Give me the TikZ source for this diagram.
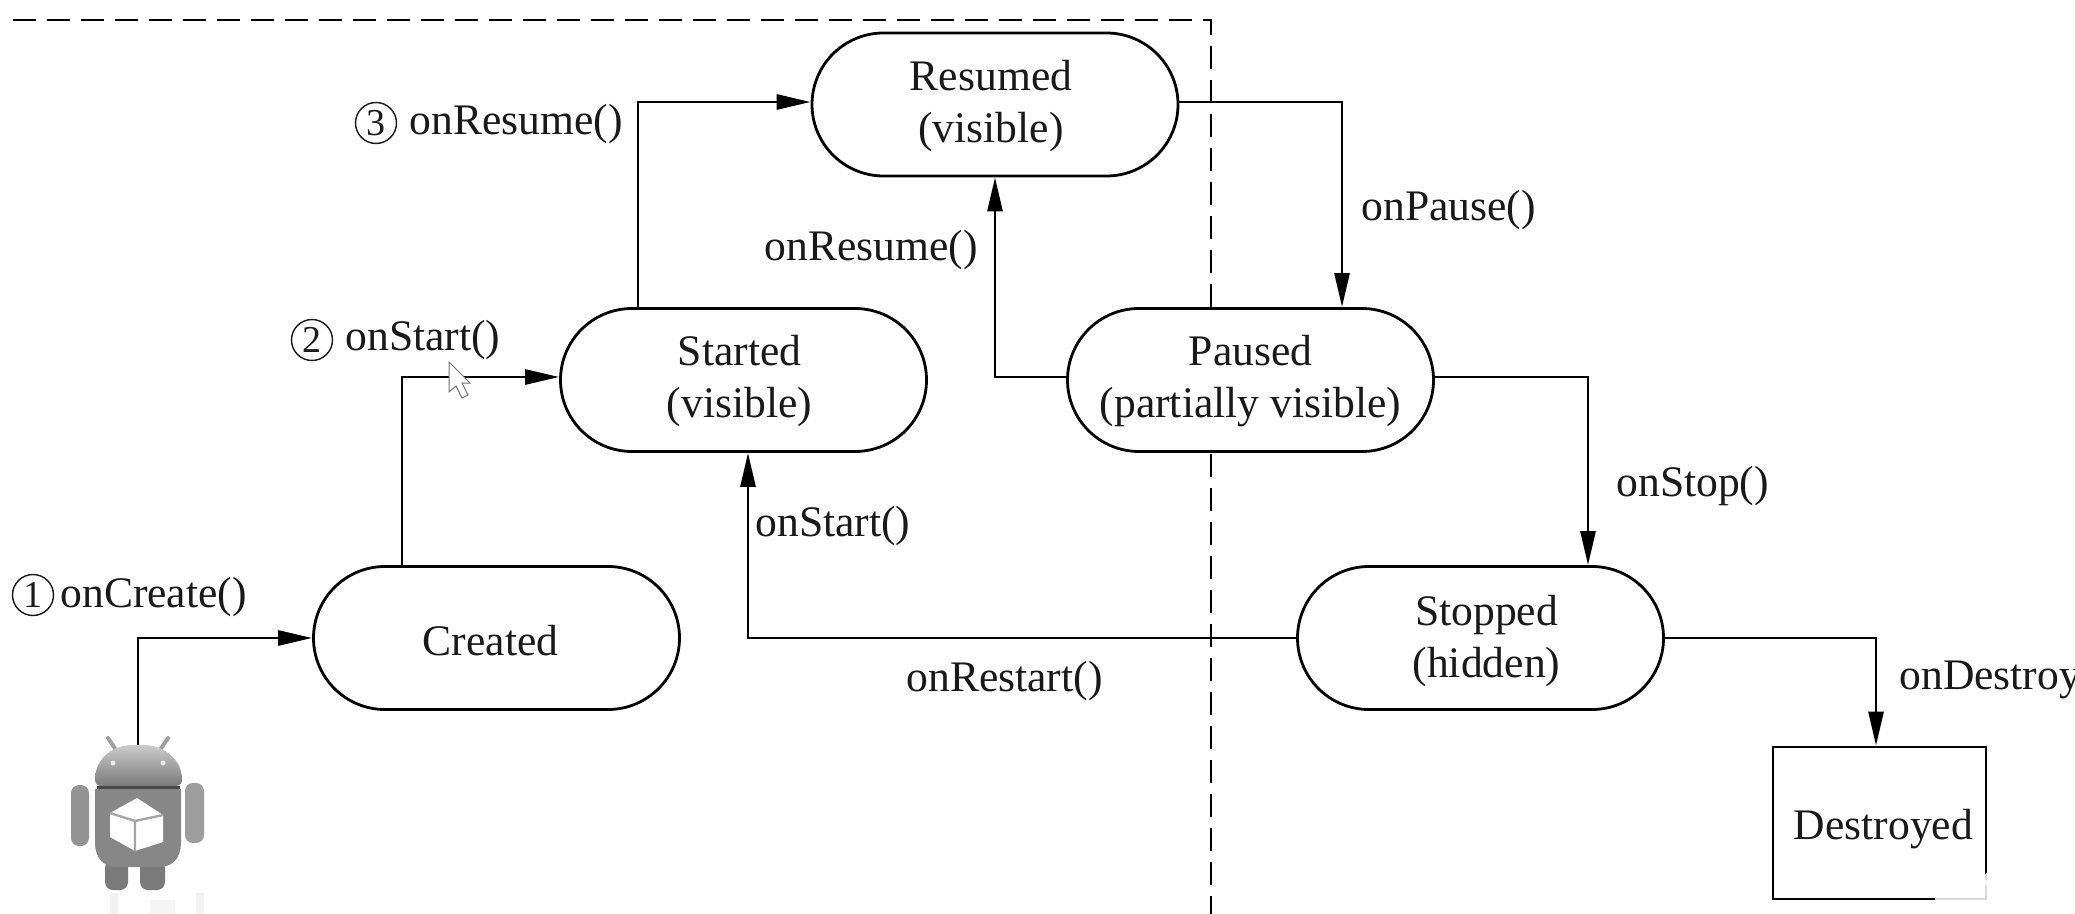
\documentclass[tikz,border=0pt]{standalone}
\usepackage{fontspec}
\setmainfont{Liberation Serif}
\usetikzlibrary{shapes.misc,arrows.meta,calc}
% #1 horizontal offset (twice the shift), #2 vertical offset, #3 lines of text
\newcommand\nudged[3]{\raisebox{\dimexpr-5.45pt+#2\relax}[0pt][0pt]{\kern#1\begin{tabular}{@{}c@{}}#3\end{tabular}}}
\tikzset{
  ln/.style={line width=1.4pt,black},
  conn/.style={ln,-{Stealth[length=17pt,width=7.5pt,inset=0pt]}},
  state/.style={rounded rectangle,rounded rectangle arc length=180,draw,ln,fill=white,minimum width=183pt,minimum height=71.5pt,inner sep=0pt,align=center,text=black!90,font=\fontsize{21.8}{26}\selectfont},
  lbl/.style={anchor=base west,inner sep=0pt,text=black!90,font=\fontsize{21.8}{26}\selectfont},
  num/.style={circle,draw,line width=0.7pt,black!90,minimum size=20.5pt,inner sep=0pt,font=\fontsize{19}{19}\selectfont},
  grp/.style={line width=1.25pt,black,dash pattern=on 11.5pt off 5.5pt}
}
\begin{document}
\begin{tikzpicture}[x=0.5pt,y=-0.5pt]
\useasboundingbox (0,0) rectangle (2075,914);
\clip (0,0) rectangle (2075,914);
\fill[white] (0,0) rectangle (2075,914);
% group boundary
\coordinate (gs) at (13,20);
\coordinate (gc) at (1211,20);
\coordinate (ge) at (1211,914);
\draw[grp] (gs) -- (gc) -- (ge);
% nodes
\node[state] (resumed) at (995,104.5) {\nudged{-4pt}{-0.5pt}{Resumed\\(visible)}};
\node[state] (started) at (743.5,380) {\nudged{-4pt}{-0.2pt}{Started\\(visible)}};
\node[state] (paused) at (1250.5,380) {\nudged{0pt}{-0.2pt}{Paused\\(partially visible)}};
\node[state] (created) at (496.5,638) {\nudged{-6pt}{-3.3pt}{Created}};
\node[state] (stopped) at (1480.5,638) {\nudged{6pt}{-1.5pt}{Stopped\\(hidden)}};
\node[draw,ln,fill=white,minimum width=106.5pt,minimum height=76pt,inner sep=0pt,text=black!90,align=center,font=\fontsize{21.8}{26}\selectfont] (destroyed) at (1879.5,823) {\nudged{4pt}{-3pt}{Destroyed}};
\coordinate (robot) at (138,745);
% bends
\coordinate (b1) at (138,638);
\coordinate (b2) at (402,377);
\coordinate (b3) at (638,102);
\coordinate (b4) at (1342,102);
\coordinate (b5) at (995,377);
\coordinate (b6) at (1588,377);
\coordinate (b7) at (748,638);
\coordinate (b8) at (1876,638);
\draw[conn] (robot) -- (b1) -- (created.west);
\draw[conn] (created.north -| b2) -- (b2) -- (started.west |- b2);
\draw[conn] (started.north -| b3) -- (b3) -- (resumed.west |- b3);
\draw[conn] (resumed.east |- b4) -- (b4) -- (paused.north -| b4);
\draw[conn] (paused.west |- b5) -- (b5) -- (resumed.south -| b5);
\draw[conn] (paused.east |- b6) -- (b6) -- (stopped.north -| b6);
\draw[conn] (stopped.west) -- (b7) -- (started.south -| b7);
\draw[conn] (stopped.east) -- (b8) -- (destroyed.north -| b8);
% labels
\node[num] (n1) at (33,595) {1};
\node[lbl] (l1) at (60,607) {onCreate()};
\node[num] (n2) at (312,340) {2};
\node[lbl] (l2) at (345,350.5) {onStart()};
\node[num] (n3) at (376,123) {3};
\node[lbl] (l3) at (409,134.5) {onResume()};
\node[lbl] (l4) at (764,260.5) {onResume()};
\node[lbl] (l5) at (1361,221) {onPause()};
\node[lbl] (l6) at (1616,496) {onStop()};
\node[lbl] (l7) at (755,536) {onStart()};
\node[lbl] (l8) at (906,691) {onRestart()};
\node[lbl] (l9) at (1899,689) {onDestroy};
% mouse cursor
\draw[fill=white,draw=black!55,line width=0.5pt] (449,362) -- (449,392) -- (456,386) -- (462,398) -- (468,395) -- (462,383) -- (470,383) -- cycle;
% android figure
\fill[black!5] (110,893) rectangle (118,914);
\fill[black!4] (150,900) rectangle (175,914);
\fill[black!5] (196,893) rectangle (204,914);
\draw[black!38,line width=2pt,line cap=round] (108,738) -- (116,750);
\draw[black!38,line width=2pt,line cap=round] (168,738) -- (160,750);
\shade[top color=black!20,bottom color=black!52,rounded corners=3pt] (95,786) .. controls (95,757) and (115,745) .. (138,745) .. controls (161,745) and (182,757) .. (182,786) -- cycle;
\fill[black!8] (113,763) circle (2.5);
\fill[black!8] (163,763) circle (2.5);
\fill[black!72] (97,786) rectangle (180,789);
\fill[black!42,rounded corners=4pt] (71,785) rectangle (89,846);
\fill[black!38,rounded corners=4pt] (185,783) rectangle (204,843);
\fill[black!52,rounded corners=4pt] (105,860) rectangle (128,890);
\fill[black!52,rounded corners=4pt] (140,860) rectangle (165,890);
\fill[black!47] (95,789) -- (181,789) -- (181,843) .. controls (181,858) and (172,867) .. (160,867) -- (116,867) .. controls (104,867) and (95,858) .. (95,843) -- cycle;
\fill[white] (137,798) -- (163,815) -- (163,842) -- (135,851) -- (110,837) -- (110,813) -- cycle;
\draw[black!35,line width=1.2pt] (110,813) -- (135,821) -- (163,815) (135,821) -- (135,851);
% watermark
\begin{scope}[opacity=0.85]
\fill[white,rounded corners=8pt] (1935,880) rectangle (2017,930);
\draw[white,line width=4pt,line cap=round] (1959,870) -- (1969,882) (1994,870) -- (1984,882);
\end{scope}
\end{tikzpicture}
\end{document}
